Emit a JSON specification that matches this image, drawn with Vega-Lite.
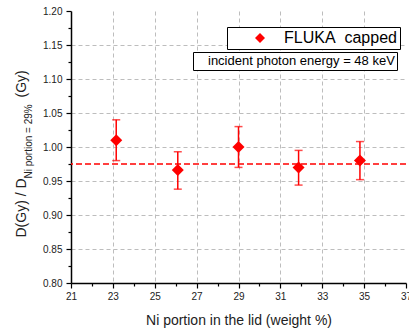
{
  "$schema": "https://vega.github.io/schema/vega-lite/v6.json",
  "width": 335,
  "height": 272,
  "autosize": "none",
  "padding": {"left": 71, "top": 11, "right": 3, "bottom": 48},
  "config": {
    "view": {"stroke": null},
    "font": "Liberation Sans",
    "axis": {
      "domainColor": "#000000",
      "domainWidth": 1.5,
      "tickColor": "#000000",
      "tickWidth": 1.2,
      "labelColor": "#222222",
      "labelFontSize": 10,
      "labelOverlap": false,
      "titleColor": "#222222",
      "titleFontWeight": "normal",
      "titleFontSize": 14,
      "gridColor": "#bdbdbd",
      "gridDash": [4, 3],
      "gridWidth": 1
    }
  },
  "data": {
    "values": [
      {"ni": 23.16, "ratio": 1.010, "lo": 0.980, "hi": 1.040, "series": "FLUKA capped"},
      {"ni": 26.1, "ratio": 0.966, "lo": 0.938, "hi": 0.993, "series": "FLUKA capped"},
      {"ni": 29.0, "ratio": 1.000, "lo": 0.970, "hi": 1.030, "series": "FLUKA capped"},
      {"ni": 31.87, "ratio": 0.970, "lo": 0.944, "hi": 0.995, "series": "FLUKA capped"},
      {"ni": 34.8, "ratio": 0.980, "lo": 0.952, "hi": 1.008, "series": "FLUKA capped"}
    ]
  },
  "layer": [
    {
      "layer": [
        {
          "mark": {"type": "rule", "color": "#ff0000", "strokeWidth": 1.5},
          "encoding": {
            "x": {
              "field": "ni", "type": "quantitative",
              "scale": {"domain": [21, 37], "nice": false, "zero": false},
              "axis": {
                "values": [21, 22, 23, 24, 25, 26, 27, 28, 29, 30, 31, 32, 33, 34, 35, 36, 37],
                "tickCount": 40,
                "labelExpr": "datum.value % 2 == 1 ? format(datum.value, 'd') : ''",
                "tickSize": {"condition": {"test": "datum.value % 2 == 1", "value": 5}, "value": 3},
                "grid": true,
                "gridOpacity": {"condition": {"test": "datum.value % 2 == 1 && datum.value > 21 && datum.value < 37", "value": 1}, "value": 0},
                "labelPadding": 3,
                "labelFlush": false,
                "title": "Ni portion in the lid (weight %)",
                "titlePadding": 12
              }
            },
            "y": {
              "field": "lo", "type": "quantitative",
              "scale": {"domain": [0.8, 1.2], "nice": false, "zero": false},
              "axis": {
                "orient": "left",
                "values": [0.8, 0.825, 0.85, 0.875, 0.9, 0.925, 0.95, 0.975, 1.0, 1.025, 1.05, 1.075, 1.1, 1.125, 1.15, 1.175, 1.2],
                "tickCount": 40,
                "labelExpr": "abs(datum.value * 20 - round(datum.value * 20)) < 0.01 ? format(datum.value, '.2f') : ''",
                "tickSize": {"condition": {"test": "abs(datum.value * 20 - round(datum.value * 20)) < 0.01", "value": 5}, "value": 3},
                "grid": true,
                "gridOpacity": {"condition": {"test": "abs(datum.value * 20 - round(datum.value * 20)) < 0.01 && datum.value > 0.81 && datum.value < 1.19", "value": 1}, "value": 0},
                "labelPadding": 4,
                "labelFlush": false,
                "title": "D(Gy) / D",
                "titleAngle": -90,
                "titleAlign": "left",
                "titleBaseline": "middle",
                "titleX": -50,
                "titleY": 226
              }
            },
            "y2": {"field": "hi"}
          }
        },
        {
          "mark": {"type": "tick", "orient": "horizontal", "color": "#ff0000", "size": 8, "thickness": 1.5},
          "encoding": {
            "x": {"field": "ni", "type": "quantitative"},
            "y": {"field": "lo", "type": "quantitative"}
          }
        },
        {
          "mark": {"type": "tick", "orient": "horizontal", "color": "#ff0000", "size": 8, "thickness": 1.5},
          "encoding": {
            "x": {"field": "ni", "type": "quantitative"},
            "y": {"field": "hi", "type": "quantitative"}
          }
        },
        {
          "mark": {"type": "point", "filled": true, "opacity": 1, "size": 144},
          "encoding": {
            "x": {"field": "ni", "type": "quantitative"},
            "y": {"field": "ratio", "type": "quantitative"},
            "color": {
              "field": "series", "type": "nominal",
              "scale": {"range": ["#ff0000"]},
              "legend": {
                "orient": "none",
                "legendX": 156,
                "legendY": 16,
                "title": null,
                "strokeColor": "#000000",
                "fillColor": "#ffffff",
                "padding": 3,
                "symbolSize": 100,
                "symbolOffset": 22,
                "labelOffset": 16,
                "labelFontSize": 16,
                "labelColor": "#000000",
                "labelExpr": "'FLUKA\u00a0 capped\u00a0\u00a0'",
                "labelLimit": 400
              }
            },
            "shape": {
              "field": "series", "type": "nominal",
              "scale": {"range": ["diamond"]}
            }
          }
        }
      ]
    },
    {
      "data": {"values": [{"reference": 0.975}]},
      "mark": {"type": "rule", "color": "#ff0000", "strokeWidth": 1.5, "strokeDash": [6, 3]},
      "encoding": {
        "y": {
          "field": "reference", "type": "quantitative",
          "scale": {"domain": [0.8, 1.2], "nice": false, "zero": false},
          "axis": null
        }
      }
    },
    {
      "mark": {"type": "point", "opacity": 0},
      "encoding": {
        "y": {
          "field": "ratio", "type": "quantitative",
          "scale": {"domain": [0.8, 1.2], "nice": false, "zero": false},
          "axis": {
            "orient": "left", "domain": false, "ticks": false, "labels": false, "grid": false,
            "title": "Ni portion = 29%", "titleFontSize": 10,
            "titleAngle": -90, "titleAlign": "left", "titleBaseline": "middle",
            "titleX": -43, "titleY": 167
          }
        }
      }
    },
    {
      "mark": {"type": "point", "opacity": 0},
      "encoding": {
        "y": {
          "field": "hi", "type": "quantitative",
          "scale": {"domain": [0.8, 1.2], "nice": false, "zero": false},
          "axis": {
            "orient": "left", "domain": false, "ticks": false, "labels": false, "grid": false,
            "title": "(Gy)",
            "titleAngle": -90, "titleAlign": "left", "titleBaseline": "middle",
            "titleX": -50, "titleY": 86
          }
        }
      }
    },
    {
      "data": {"values": [{"note": "incident photon energy = 48 keV"}]},
      "mark": {"type": "point", "opacity": 0},
      "encoding": {
        "strokeDash": {
          "field": "note", "type": "nominal",
          "legend": {
            "orient": "none",
            "legendX": 122,
            "legendY": 41,
            "title": null,
            "strokeColor": "#000000",
            "fillColor": "#ffffff",
            "padding": 2,
            "symbolSize": 0,
            "symbolOpacity": 0,
            "symbolStrokeWidth": 0,
            "symbolOffset": 0,
            "labelOffset": 0,
            "labelFontSize": 13,
            "labelColor": "#000000",
            "labelExpr": "datum.label + '\u00a0\u00a0\u00a0'",
            "labelLimit": 400
          }
        }
      }
    }
  ],
  "resolve": {"scale": {"y": "independent"}}
}
